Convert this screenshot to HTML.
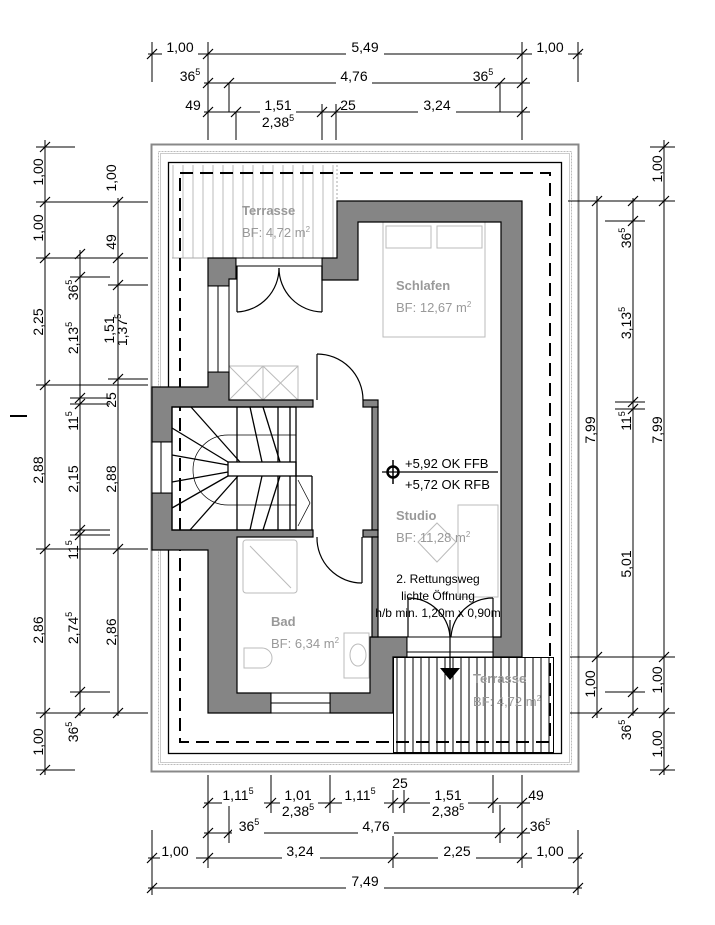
<!DOCTYPE html>
<html><head><meta charset="utf-8"><style>
html,body{margin:0;padding:0;background:#fff;}
svg{display:block;}
text{font-family:"Liberation Sans",Arial,sans-serif;}
</style></head><body>
<svg width="715" height="925" viewBox="0 0 715 925" xmlns="http://www.w3.org/2000/svg">
<rect width="715" height="925" fill="#fff"/>
<!-- frames -->
<rect x="151.5" y="144.5" width="427" height="627" fill="none" stroke="#888" stroke-width="2"/>
<rect x="158.5" y="151.5" width="413" height="613" fill="none" stroke="#bbb" stroke-width="1" stroke-dasharray="2 1"/>
<rect x="160.5" y="153.5" width="409" height="609" fill="none" stroke="#ccc" stroke-width="1"/>
<rect x="168.5" y="162.5" width="393" height="591" fill="none" stroke="#000" stroke-width="1.3"/>
<!-- terraces hatch -->
<g stroke="#aaa" stroke-width="0.8">
<line x1="173" y1="165" x2="173" y2="258"/><line x1="183" y1="165" x2="183" y2="258"/><line x1="193" y1="165" x2="193" y2="258"/><line x1="203" y1="165" x2="203" y2="258"/><line x1="213" y1="165" x2="213" y2="258"/><line x1="223" y1="165" x2="223" y2="258"/><line x1="233" y1="165" x2="233" y2="258"/><line x1="243" y1="165" x2="243" y2="258"/><line x1="253" y1="165" x2="253" y2="258"/><line x1="263" y1="165" x2="263" y2="258"/><line x1="273" y1="165" x2="273" y2="258"/><line x1="283" y1="165" x2="283" y2="258"/><line x1="293" y1="165" x2="293" y2="258"/><line x1="303" y1="165" x2="303" y2="258"/><line x1="313" y1="165" x2="313" y2="258"/><line x1="323" y1="165" x2="323" y2="258"/><line x1="333" y1="165" x2="333" y2="258"/>
</g>
<line x1="337" y1="165" x2="337" y2="201" stroke="#aaa" stroke-dasharray="2 2"/>
<line x1="172" y1="258" x2="208" y2="258" stroke="#aaa"/>
<g stroke="#000" stroke-width="1">
<line x1="397" y1="657" x2="397" y2="752"/><line x1="405" y1="657" x2="405" y2="752"/><line x1="413" y1="657" x2="413" y2="752"/><line x1="421" y1="657" x2="421" y2="752"/><line x1="429" y1="657" x2="429" y2="752"/><line x1="437" y1="657" x2="437" y2="752"/><line x1="445" y1="657" x2="445" y2="752"/><line x1="453" y1="657" x2="453" y2="752"/><line x1="461" y1="657" x2="461" y2="752"/><line x1="469" y1="657" x2="469" y2="752"/><line x1="477" y1="657" x2="477" y2="752"/><line x1="485" y1="657" x2="485" y2="752"/><line x1="493" y1="657" x2="493" y2="752"/><line x1="501" y1="657" x2="501" y2="752"/><line x1="509" y1="657" x2="509" y2="752"/><line x1="517" y1="657" x2="517" y2="752"/><line x1="525" y1="657" x2="525" y2="752"/><line x1="533" y1="657" x2="533" y2="752"/><line x1="541" y1="657" x2="541" y2="752"/><line x1="549" y1="657" x2="549" y2="752"/>
</g>
<rect x="393.5" y="657.5" width="160" height="95" fill="none" stroke="#000" stroke-width="1"/>
<!-- dashed eave line -->
<rect x="180" y="173" width="370" height="569" fill="none" stroke="#000" stroke-width="2" stroke-dasharray="13 7"/>
<!-- furniture light gray -->
<g fill="none" stroke="#bbb" stroke-width="1">
<rect x="383" y="222" width="102" height="115"/><rect x="386" y="226" width="45" height="22"/><rect x="437" y="226" width="45" height="22"/>
<rect x="229" y="366" width="69" height="34"/><line x1="229" y1="366" x2="263" y2="400"/><line x1="263" y1="366" x2="229" y2="400"/><line x1="263" y1="366" x2="298" y2="400"/><line x1="298" y1="366" x2="263" y2="400"/><line x1="263" y1="366" x2="263" y2="400"/>
<rect x="458" y="505" width="40" height="92"/>
<polygon points="437,523 456,542 437,562 418,542"/>
<rect x="243" y="540" width="54" height="53" rx="3"/><line x1="250" y1="546" x2="291" y2="588"/>
<path d="M244,648 h18 a10,10 0 0 1 0,20 h-18 z"/>
<rect x="344" y="633" width="25" height="45"/><ellipse cx="358" cy="655" rx="8" ry="11"/>
</g>
<!-- walls -->
<g fill="#858585" stroke="#000" stroke-width="1.2">
<polygon points="337,201 522,201 522,657 493,657 493,637 501,637 501,222 358,222 358,280 322,280 322,258 337,258"/>
<polygon points="208,258 236,258 236,279 229,279 229,286 208,286"/>
<polygon points="208,372 229,372 229,400 313,400 313,407 172,407 172,442 152,442 152,387 208,387"/>
<polygon points="152,493 172,493 172,530 313,530 313,537 237,537 237,693 271,693 271,713 208,713 208,550 152,550"/>
<polygon points="330,693 370,693 370,637 407,637 407,657 393,657 393,713 330,713"/>
<rect x="372" y="407" width="6" height="123"/>
<rect x="363" y="400" width="15" height="7"/>
<rect x="363" y="530" width="15" height="7"/>
<rect x="372" y="537" width="6" height="100"/>
</g>
<!-- windows -->
<g fill="#fff" stroke="#000" stroke-width="1">
<rect x="208" y="286" width="21" height="86"/><line x1="218" y1="286" x2="218" y2="372"/>
<rect x="152" y="442" width="20" height="51"/><line x1="161" y1="442" x2="161" y2="493"/>
<rect x="271" y="693" width="59" height="20"/><line x1="271" y1="703" x2="330" y2="703"/>
<rect x="407" y="637" width="86" height="20"/><line x1="407" y1="652" x2="493" y2="652"/>
<rect x="236" y="258" width="86" height="8"/>
</g>
<!-- doors -->
<g fill="none" stroke="#000" stroke-width="1.2">
<line x1="237" y1="266" x2="237" y2="312"/><path d="M237,312 A44,44 0 0 0 279,268"/>
<line x1="322" y1="266" x2="322" y2="312"/><path d="M322,312 A44,44 0 0 1 279,268"/>
<line x1="317" y1="354" x2="317" y2="400"/><path d="M317,354 A46,46 0 0 1 363,400"/>
<line x1="362" y1="537" x2="362" y2="583"/><path d="M317,537 A45,45 0 0 0 362,583"/>
<line x1="408" y1="598" x2="408" y2="637"/><path d="M408,598 A42,42 0 0 1 450,637"/>
<line x1="493" y1="598" x2="493" y2="637"/><path d="M493,598 A42,42 0 0 0 451,637"/>
<line x1="450" y1="620" x2="450" y2="672"/>
</g>
<polygon points="440,668 460,668 450,680" fill="#000"/>
<!-- stair -->
<g fill="none" stroke="#000" stroke-width="1.3">
<rect x="172" y="407" width="124" height="123"/>
<rect x="228" y="462" width="68" height="14"/>
<line x1="237" y1="407" x2="237" y2="462"/><line x1="250" y1="407" x2="262" y2="462"/>
<line x1="263" y1="407" x2="280" y2="462"/><line x1="278" y1="407" x2="278" y2="462"/>
<line x1="290" y1="407" x2="290" y2="462"/>
<line x1="237" y1="476" x2="237" y2="530"/><line x1="262" y1="476" x2="250" y2="530"/>
<line x1="280" y1="476" x2="263" y2="530"/><line x1="278" y1="476" x2="278" y2="530"/><line x1="290" y1="476" x2="290" y2="530"/>
<line x1="172" y1="428" x2="228" y2="462"/><line x1="172" y1="455" x2="228" y2="465"/>
<line x1="172" y1="482" x2="228" y2="472"/><line x1="172" y1="508" x2="228" y2="476"/>
<line x1="190" y1="530" x2="238" y2="476"/><line x1="191" y1="407" x2="240" y2="462"/>
<line x1="296" y1="476" x2="312" y2="476"/><line x1="312" y1="476" x2="312" y2="530"/>
</g>
<g fill="none" stroke="#000" stroke-width="0.7">
<path d="M228,435 A34,34 0 0 0 228,505"/><line x1="228" y1="435" x2="296" y2="435"/><line x1="228" y1="505" x2="296" y2="505"/>
<polyline points="298,480 310,503 298,526"/>
</g>
<!-- level marker -->
<circle cx="393" cy="472" r="5.5" fill="#fff" stroke="#000" stroke-width="2.5"/>
<line x1="382" y1="472" x2="498" y2="472" stroke="#000" stroke-width="1.3"/>
<line x1="393" y1="460" x2="393" y2="484" stroke="#000" stroke-width="1.5"/>
<g font-size="13" fill="#000">
<text x="405" y="468">+5,92 OK FFB</text>
<text x="405" y="489">+5,72 OK RFB</text>
</g>
<g font-size="12" fill="#000" text-anchor="middle">
<text x="438" y="583">2. Rettungsweg</text>
<text x="438" y="600">lichte Öffnung</text>
<text x="438" y="617">h/b min. 1,20m x 0,90m</text>
</g>
<!-- room labels -->
<g fill="#999" font-size="13">
<text x="242" y="215" font-weight="bold">Terrasse</text><text x="242" y="237">BF: 4,72 m<tspan font-size="8" dy="-5">2</tspan></text>
<text x="396" y="290" font-weight="bold">Schlafen</text><text x="396" y="312">BF: 12,67 m<tspan font-size="8" dy="-5">2</tspan></text>
<text x="396" y="520" font-weight="bold">Studio</text><text x="396" y="542">BF: 11,28 m<tspan font-size="8" dy="-5">2</tspan></text>
<text x="271" y="626" font-weight="bold">Bad</text><text x="271" y="648">BF: 6,34 m<tspan font-size="8" dy="-5">2</tspan></text>
<text x="473" y="683" font-weight="bold">Terrasse</text><text x="473" y="706">BF: 4,72 m<tspan font-size="8" dy="-5">2</tspan></text>
</g>
<!-- dimension lines -->
<g stroke="#000" stroke-width="1" fill="none">
<!-- top -->
<line x1="148" y1="54" x2="582" y2="54"/>
<line x1="152" y1="42" x2="152" y2="82"/><line x1="578" y1="42" x2="578" y2="82"/>
<line x1="208" y1="42" x2="208" y2="140"/><line x1="522" y1="42" x2="522" y2="140"/>
<line x1="204" y1="83" x2="530" y2="83"/>
<line x1="229" y1="83" x2="229" y2="112"/><line x1="500" y1="83" x2="500" y2="112"/>
<line x1="204" y1="112" x2="530" y2="112"/>
<line x1="236" y1="112" x2="236" y2="140"/><line x1="322" y1="104" x2="322" y2="140"/><line x1="336" y1="104" x2="336" y2="140"/>
<!-- bottom -->
<line x1="204" y1="803" x2="530" y2="803"/>
<line x1="208" y1="775" x2="208" y2="868"/><line x1="522" y1="775" x2="522" y2="868"/>
<line x1="271" y1="775" x2="271" y2="813"/><line x1="330" y1="775" x2="330" y2="813"/>
<line x1="393" y1="790" x2="393" y2="813"/><line x1="404" y1="790" x2="404" y2="813"/><line x1="493" y1="775" x2="493" y2="813"/>
<line x1="204" y1="833" x2="530" y2="833"/>
<line x1="229" y1="805" x2="229" y2="843"/><line x1="500" y1="805" x2="500" y2="843"/>
<line x1="148" y1="858" x2="582" y2="858"/>
<line x1="152" y1="830" x2="152" y2="895"/><line x1="578" y1="830" x2="578" y2="895"/>
<line x1="393" y1="833" x2="393" y2="868"/>
<line x1="148" y1="888" x2="582" y2="888"/>
<!-- left -->
<line x1="45" y1="140" x2="45" y2="775"/>
<line x1="36" y1="147" x2="75" y2="147"/><line x1="36" y1="202" x2="148" y2="202"/><line x1="36" y1="258" x2="148" y2="258"/>
<line x1="36" y1="385" x2="148" y2="385"/><line x1="36" y1="549" x2="148" y2="549"/><line x1="36" y1="713" x2="148" y2="713"/><line x1="36" y1="770" x2="75" y2="770"/>
<line x1="80" y1="250" x2="80" y2="716"/>
<line x1="70" y1="277" x2="110" y2="277"/><line x1="70" y1="398" x2="110" y2="398"/><line x1="70" y1="404" x2="110" y2="404"/>
<line x1="70" y1="530" x2="110" y2="530"/><line x1="70" y1="535" x2="110" y2="535"/><line x1="70" y1="692" x2="110" y2="692"/>
<line x1="118" y1="198" x2="118" y2="716"/>
<line x1="108" y1="285" x2="148" y2="285"/><line x1="108" y1="379" x2="148" y2="379"/>
<line x1="10" y1="416" x2="27" y2="416" stroke-width="2"/>
<!-- right -->
<line x1="664" y1="140" x2="664" y2="775"/>
<line x1="650" y1="147" x2="675" y2="147"/><line x1="568" y1="201" x2="675" y2="201"/>
<line x1="570" y1="657" x2="675" y2="657"/><line x1="570" y1="713" x2="675" y2="713"/><line x1="650" y1="770" x2="675" y2="770"/>
<line x1="633" y1="198" x2="633" y2="716"/>
<line x1="605" y1="221" x2="645" y2="221"/><line x1="615" y1="402" x2="645" y2="402"/><line x1="615" y1="409" x2="645" y2="409"/>
<line x1="605" y1="692" x2="645" y2="692"/>
<line x1="597" y1="196" x2="597" y2="718"/>
</g>
<!-- ticks -->
<g stroke="#000" stroke-width="1.2">
<path d="M147,59 l10,-10 M203,59 l10,-10 M517,59 l10,-10 M573,59 l10,-10
M203,88 l10,-10 M224,88 l10,-10 M495,88 l10,-10 M517,88 l10,-10
M203,117 l10,-10 M231,117 l10,-10 M317,117 l10,-10 M331,117 l10,-10 M517,117 l10,-10
M203,808 l10,-10 M266,808 l10,-10 M325,808 l10,-10 M388,808 l10,-10 M399,808 l10,-10 M488,808 l10,-10 M517,808 l10,-10
M203,838 l10,-10 M224,838 l10,-10 M495,838 l10,-10 M517,838 l10,-10
M147,863 l10,-10 M203,863 l10,-10 M388,863 l10,-10 M517,863 l10,-10 M573,863 l10,-10
M147,893 l10,-10 M573,893 l10,-10
M40,152 l10,-10 M40,207 l10,-10 M40,263 l10,-10 M40,390 l10,-10 M40,554 l10,-10 M40,718 l10,-10 M40,775 l10,-10
M75,259 l10,-10 M75,282 l10,-10 M75,403 l10,-10 M75,409 l10,-10 M75,535 l10,-10 M75,540 l10,-10 M75,697 l10,-10 M75,718 l10,-10
M113,207 l10,-10 M113,263 l10,-10 M113,290 l10,-10 M113,384 l10,-10 M113,554 l10,-10 M113,718 l10,-10
M659,152 l10,-10 M659,206 l10,-10 M659,662 l10,-10 M659,718 l10,-10 M659,775 l10,-10
M628,206 l10,-10 M628,226 l10,-10 M628,407 l10,-10 M628,414 l10,-10 M628,697 l10,-10 M628,718 l10,-10
M592,206 l10,-10 M592,662 l10,-10 M592,718 l10,-10"/>
</g>
<!-- dim text horizontal -->
<g font-size="14" fill="#000" text-anchor="middle">
<rect x="162" y="40" width="36" height="16" fill="#fff"/>
<rect x="346" y="40" width="38" height="16" fill="#fff"/>
<rect x="532" y="40" width="36" height="16" fill="#fff"/>
<text x="180" y="52">1,00</text><text x="365" y="52">5,49</text><text x="550" y="52">1,00</text>
<rect x="336" y="70" width="36" height="16" fill="#fff"/>
<text x="190" y="81">36<tspan font-size="9" dy="-6">5</tspan></text><text x="354" y="81">4,76</text><text x="483" y="81">36<tspan font-size="9" dy="-6">5</tspan></text>
<rect x="260" y="98" width="36" height="16" fill="#fff"/><rect x="418" y="98" width="38" height="16" fill="#fff"/>
<text x="193" y="110">49</text><text x="278" y="110">1,51</text><text x="278" y="127">2,38<tspan font-size="9" dy="-6">5</tspan></text>
<text x="348" y="110">25</text><text x="437" y="110">3,24</text>
<rect x="222" y="790" width="42" height="16" fill="#fff"/><rect x="280" y="790" width="38" height="16" fill="#fff"/><rect x="342" y="790" width="42" height="16" fill="#fff"/><rect x="430" y="790" width="38" height="16" fill="#fff"/>
<text x="238" y="800">1,11<tspan font-size="9" dy="-6">5</tspan></text><text x="298" y="800">1,01</text><text x="298" y="816">2,38<tspan font-size="9" dy="-6">5</tspan></text>
<text x="360" y="800">1,11<tspan font-size="9" dy="-6">5</tspan></text><text x="400" y="788">25</text>
<text x="448" y="800">1,51</text><text x="448" y="816">2,38<tspan font-size="9" dy="-6">5</tspan></text><text x="536" y="800">49</text>
<rect x="232" y="820" width="32" height="16" fill="#fff"/><rect x="358" y="820" width="36" height="16" fill="#fff"/>
<text x="249" y="831">36<tspan font-size="9" dy="-6">5</tspan></text><text x="376" y="831">4,76</text><text x="540" y="831">36<tspan font-size="9" dy="-6">5</tspan></text>
<rect x="160" y="845" width="36" height="16" fill="#fff"/><rect x="282" y="845" width="38" height="16" fill="#fff"/><rect x="438" y="845" width="38" height="16" fill="#fff"/><rect x="532" y="845" width="36" height="16" fill="#fff"/>
<text x="175" y="856">1,00</text><text x="300" y="856">3,24</text><text x="457" y="856">2,25</text><text x="550" y="856">1,00</text>
<rect x="346" y="874" width="38" height="16" fill="#fff"/>
<text x="365" y="886">7,49</text>
</g>
<!-- dim text vertical -->
<g font-size="14" fill="#000" text-anchor="middle">
<text transform="translate(43,172) rotate(-90)">1,00</text>
<text transform="translate(43,228) rotate(-90)">1,00</text>
<text transform="translate(43,322) rotate(-90)">2,25</text>
<text transform="translate(43,470) rotate(-90)">2,88</text>
<text transform="translate(43,630) rotate(-90)">2,86</text>
<text transform="translate(43,742) rotate(-90)">1,00</text>
<text transform="translate(78,290) rotate(-90)">36<tspan font-size="9" dy="-6">5</tspan></text>
<text transform="translate(78,338) rotate(-90)">2,13<tspan font-size="9" dy="-6">5</tspan></text>
<text transform="translate(78,421) rotate(-90)">11<tspan font-size="9" dy="-6">5</tspan></text>
<text transform="translate(78,479) rotate(-90)">2,15</text>
<text transform="translate(78,550) rotate(-90)">11<tspan font-size="9" dy="-6">5</tspan></text>
<text transform="translate(78,628) rotate(-90)">2,74<tspan font-size="9" dy="-6">5</tspan></text>
<text transform="translate(78,732) rotate(-90)">36<tspan font-size="9" dy="-6">5</tspan></text>
<text transform="translate(116,178) rotate(-90)">1,00</text>
<text transform="translate(116,242) rotate(-90)">49</text>
<text transform="translate(114,330) rotate(-90)">1,51</text>
<text transform="translate(127,330) rotate(-90)">1,37<tspan font-size="9" dy="-6">5</tspan></text>
<text transform="translate(116,400) rotate(-90)">25</text>
<text transform="translate(116,479) rotate(-90)">2,88</text>
<text transform="translate(116,632) rotate(-90)">2,86</text>
<text transform="translate(662,169) rotate(-90)">1,00</text>
<text transform="translate(662,430) rotate(-90)">7,99</text>
<text transform="translate(662,680) rotate(-90)">1,00</text>
<text transform="translate(662,744) rotate(-90)">1,00</text>
<text transform="translate(631,238) rotate(-90)">36<tspan font-size="9" dy="-6">5</tspan></text>
<text transform="translate(631,323) rotate(-90)">3,13<tspan font-size="9" dy="-6">5</tspan></text>
<text transform="translate(631,421) rotate(-90)">11<tspan font-size="9" dy="-6">5</tspan></text>
<text transform="translate(631,564) rotate(-90)">5,01</text>
<text transform="translate(631,730) rotate(-90)">36<tspan font-size="9" dy="-6">5</tspan></text>
<text transform="translate(595,430) rotate(-90)">7,99</text>
<text transform="translate(595,684) rotate(-90)">1,00</text>
</g>
</svg>
</body></html>
